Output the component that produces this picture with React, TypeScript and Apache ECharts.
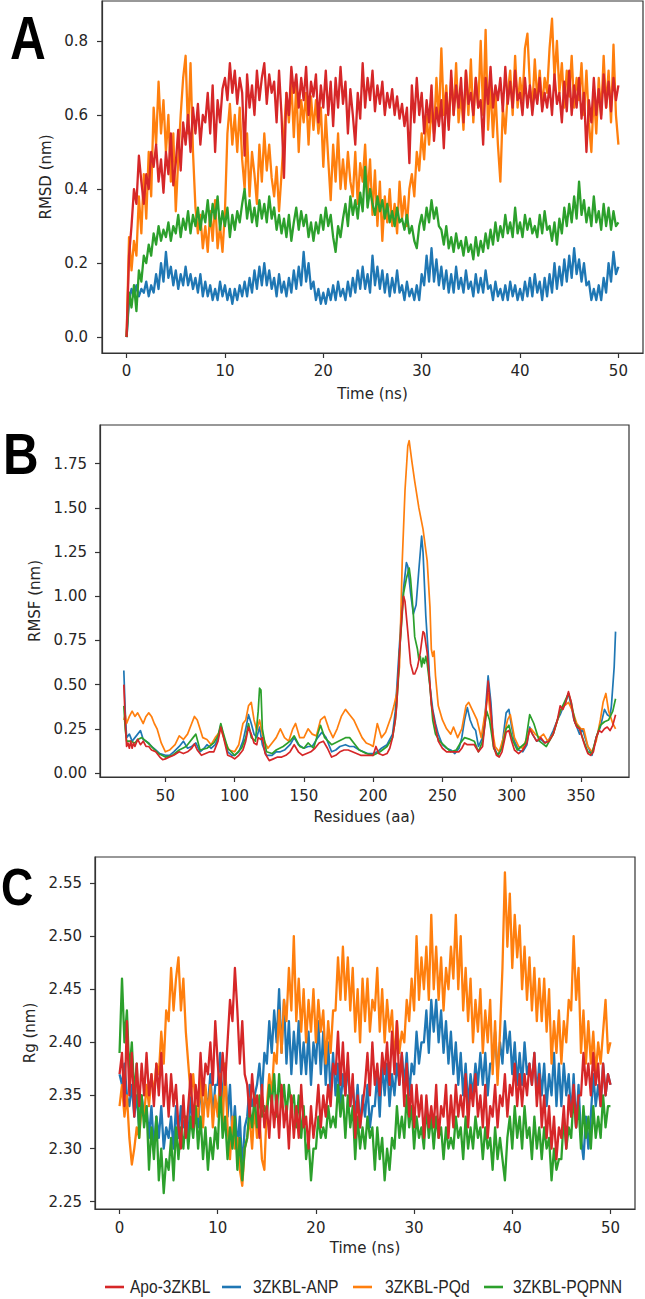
import { useEffect, useRef } from "react";
import * as echarts from "echarts";

// ---------- shared ----------
const seriesNames = ["Apo-3ZKBL", "3ZKBL-ANP", "3ZKBL-PQd", "3ZKBL-PQPNN"];
const seriesColors = ["#d62728", "#1f77b4", "#ff7f0e", "#2ca02c"];
// sampling grid of the trajectories (ns), every 0.25 ns from 0 to 50
const timeNs: number[] = Array.from({ length: 201 }, (_, i) => i * 0.25);

// ---------- A : RMSD (nm) ----------
const rmsdApo = [
  0.00, 0.22, 0.30, 0.40, 0.36, 0.49, 0.42, 0.36, 0.44, 0.40, 0.50, 0.46, 0.52, 0.42, 0.48, 0.39,
  0.50, 0.44, 0.55, 0.41, 0.47, 0.56, 0.45, 0.58, 0.52, 0.60, 0.50, 0.62, 0.55, 0.63, 0.52, 0.60,
  0.58, 0.66, 0.55, 0.68, 0.50, 0.64, 0.58, 0.67, 0.70, 0.64, 0.74, 0.66, 0.72, 0.63, 0.70, 0.66,
  0.49, 0.71, 0.62, 0.68, 0.60, 0.72, 0.64, 0.70, 0.74, 0.63, 0.71, 0.66, 0.69, 0.58, 0.72, 0.60,
  0.43, 0.66, 0.60, 0.73, 0.66, 0.71, 0.62, 0.70, 0.64, 0.73, 0.60, 0.69, 0.65, 0.71, 0.58, 0.68,
  0.62, 0.72, 0.60, 0.69, 0.57, 0.70, 0.62, 0.73, 0.63, 0.69, 0.55, 0.67, 0.60, 0.52, 0.66, 0.59,
  0.74, 0.62, 0.70, 0.64, 0.72, 0.61, 0.68, 0.63, 0.69, 0.60, 0.66, 0.62, 0.67, 0.60, 0.65, 0.59,
  0.63, 0.57, 0.62, 0.47, 0.68, 0.58, 0.70, 0.60, 0.66, 0.55, 0.64, 0.58, 0.68, 0.53, 0.62, 0.57,
  0.64, 0.51, 0.66, 0.56, 0.72, 0.60, 0.68, 0.62, 0.70, 0.58, 0.72, 0.63, 0.66, 0.60, 0.70, 0.62,
  0.64, 0.52, 0.70, 0.63, 0.73, 0.62, 0.68, 0.64, 0.70, 0.61, 0.73, 0.63, 0.69, 0.62, 0.72, 0.64,
  0.66, 0.60, 0.70, 0.62, 0.68, 0.60, 0.67, 0.63, 0.70, 0.61, 0.66, 0.62, 0.68, 0.60, 0.71, 0.63,
  0.66, 0.58, 0.69, 0.61, 0.72, 0.60, 0.68, 0.62, 0.70, 0.59, 0.66, 0.50, 0.64, 0.58, 0.70, 0.60,
  0.67, 0.59, 0.71, 0.62, 0.69, 0.61, 0.70, 0.64, 0.68,
];
const rmsdAnp = [
  0.00, 0.10, 0.13, 0.11, 0.14, 0.11, 0.13, 0.12, 0.15, 0.11, 0.14, 0.12, 0.17, 0.13, 0.20, 0.15,
  0.23, 0.16, 0.19, 0.14, 0.18, 0.13, 0.17, 0.14, 0.19, 0.14, 0.17, 0.13, 0.16, 0.12, 0.17, 0.11,
  0.15, 0.11, 0.14, 0.10, 0.13, 0.10, 0.15, 0.11, 0.14, 0.10, 0.13, 0.09, 0.13, 0.10, 0.14, 0.11,
  0.15, 0.11, 0.16, 0.12, 0.18, 0.13, 0.19, 0.14, 0.20, 0.14, 0.18, 0.13, 0.16, 0.11, 0.17, 0.12,
  0.15, 0.11, 0.16, 0.12, 0.18, 0.13, 0.19, 0.14, 0.23, 0.15, 0.20, 0.13, 0.15, 0.10, 0.13, 0.09,
  0.12, 0.09, 0.13, 0.10, 0.14, 0.10, 0.15, 0.11, 0.13, 0.10, 0.15, 0.11, 0.16, 0.12, 0.18, 0.13,
  0.19, 0.13, 0.17, 0.12, 0.22, 0.14, 0.19, 0.13, 0.18, 0.12, 0.17, 0.11, 0.16, 0.12, 0.18, 0.12,
  0.14, 0.10, 0.15, 0.11, 0.13, 0.10, 0.14, 0.10, 0.17, 0.14, 0.22, 0.15, 0.24, 0.15, 0.21, 0.14,
  0.19, 0.13, 0.18, 0.12, 0.17, 0.12, 0.19, 0.13, 0.16, 0.12, 0.18, 0.13, 0.15, 0.11, 0.17, 0.12,
  0.16, 0.12, 0.18, 0.13, 0.14, 0.10, 0.15, 0.11, 0.13, 0.10, 0.14, 0.10, 0.15, 0.11, 0.14, 0.10,
  0.13, 0.10, 0.15, 0.11, 0.16, 0.11, 0.17, 0.12, 0.15, 0.10, 0.16, 0.11, 0.17, 0.12, 0.20, 0.13,
  0.19, 0.14, 0.21, 0.15, 0.22, 0.16, 0.24, 0.17, 0.21, 0.15, 0.20, 0.14, 0.15, 0.10, 0.13, 0.10,
  0.14, 0.10, 0.16, 0.12, 0.20, 0.15, 0.23, 0.17, 0.19,
];
const rmsdPqd = [
  0.00, 0.27, 0.18, 0.26, 0.22, 0.38, 0.28, 0.44, 0.32, 0.50, 0.38, 0.62, 0.52, 0.69, 0.55, 0.64,
  0.50, 0.60, 0.42, 0.55, 0.34, 0.48, 0.60, 0.70, 0.76, 0.55, 0.74, 0.50, 0.35, 0.28, 0.33, 0.24,
  0.30, 0.23, 0.34, 0.26, 0.37, 0.24, 0.30, 0.23, 0.34, 0.55, 0.63, 0.52, 0.60, 0.50, 0.62, 0.48,
  0.40, 0.55, 0.38, 0.50, 0.44, 0.36, 0.52, 0.42, 0.55, 0.45, 0.52, 0.43, 0.38, 0.46, 0.34, 0.44,
  0.55, 0.66, 0.58, 0.69, 0.54, 0.68, 0.50, 0.64, 0.58, 0.66, 0.52, 0.65, 0.56, 0.64, 0.55, 0.62,
  0.46, 0.60, 0.48, 0.37, 0.52, 0.42, 0.55, 0.40, 0.48, 0.40, 0.50, 0.42, 0.38, 0.50, 0.36, 0.47,
  0.42, 0.52, 0.38, 0.48, 0.33, 0.45, 0.30, 0.42, 0.26, 0.38, 0.31, 0.40, 0.30, 0.36, 0.28, 0.42,
  0.32, 0.38, 0.30, 0.40, 0.44, 0.38, 0.50, 0.45, 0.55, 0.48, 0.60, 0.52, 0.62, 0.55, 0.70, 0.58,
  0.78, 0.60, 0.68, 0.57, 0.70, 0.60, 0.74, 0.58, 0.66, 0.56, 0.72, 0.60, 0.75, 0.58, 0.70, 0.62,
  0.80, 0.60, 0.83, 0.56, 0.68, 0.54, 0.66, 0.52, 0.42, 0.62, 0.55, 0.66, 0.72, 0.60, 0.76, 0.62,
  0.70, 0.64, 0.78, 0.82, 0.68, 0.62, 0.75, 0.64, 0.72, 0.62, 0.70, 0.66, 0.78, 0.86, 0.70, 0.80,
  0.66, 0.74, 0.62, 0.72, 0.65, 0.76, 0.62, 0.70, 0.64, 0.74, 0.60, 0.72, 0.58, 0.50, 0.66, 0.55,
  0.70, 0.60, 0.76, 0.62, 0.72, 0.58, 0.79, 0.60, 0.52,
];
const rmsdPqpnn = [
  0.00, 0.12, 0.08, 0.14, 0.07, 0.18, 0.15, 0.22, 0.20, 0.25, 0.22, 0.28, 0.25, 0.30, 0.26, 0.29,
  0.27, 0.31, 0.26, 0.30, 0.28, 0.33, 0.27, 0.32, 0.29, 0.34, 0.28, 0.33, 0.30, 0.35, 0.29, 0.34,
  0.31, 0.37, 0.30, 0.36, 0.32, 0.38, 0.29, 0.34, 0.30, 0.35, 0.27, 0.33, 0.29, 0.34, 0.31, 0.36,
  0.40, 0.32, 0.37, 0.31, 0.35, 0.30, 0.37, 0.32, 0.36, 0.31, 0.38, 0.32, 0.35, 0.29, 0.33, 0.28,
  0.32, 0.27, 0.33, 0.26, 0.31, 0.35, 0.29, 0.34, 0.30, 0.33, 0.27, 0.31, 0.26, 0.31, 0.28, 0.33,
  0.29, 0.35, 0.30, 0.33, 0.27, 0.23, 0.30, 0.27, 0.32, 0.36, 0.30, 0.38, 0.33, 0.37, 0.32, 0.39,
  0.34, 0.46, 0.35, 0.40, 0.36, 0.33, 0.38, 0.34, 0.37, 0.32, 0.36, 0.31, 0.34, 0.30, 0.35, 0.31,
  0.32, 0.29, 0.33, 0.28, 0.30, 0.26, 0.24, 0.30, 0.33, 0.29, 0.35, 0.31, 0.37, 0.32, 0.35, 0.30,
  0.29, 0.25, 0.30, 0.24, 0.27, 0.23, 0.28, 0.24, 0.26, 0.22, 0.27, 0.23, 0.25, 0.21, 0.27, 0.22,
  0.26, 0.23, 0.28, 0.24, 0.29, 0.25, 0.31, 0.26, 0.30, 0.27, 0.33, 0.28, 0.31, 0.27, 0.35, 0.28,
  0.31, 0.27, 0.33, 0.29, 0.32, 0.28, 0.30, 0.27, 0.33, 0.28, 0.34, 0.29, 0.30, 0.26, 0.31, 0.25,
  0.32, 0.28, 0.35, 0.30, 0.36, 0.31, 0.38, 0.32, 0.42, 0.33, 0.37, 0.31, 0.35, 0.30, 0.38, 0.31,
  0.34, 0.29, 0.36, 0.30, 0.35, 0.29, 0.34, 0.30, 0.31,
];
const rmsdTimeTicks = [0, 10, 20, 30, 40, 50];
const rmsdValueTicks = [0, 0.2, 0.4, 0.6, 0.8];

// ---------- B : RMSF (nm) per residue ----------
const rmsfApo: [number, number][] = [
  [20, 0.5], [21, 0.3], [22, 0.15], [23, 0.17], [24, 0.14], [25, 0.18], [26, 0.14], [27, 0.17], [28, 0.15],
  [30, 0.19], [32, 0.16], [34, 0.18], [36, 0.15], [38, 0.15], [40, 0.13], [43, 0.12], [46, 0.09], [48, 0.075],
  [50, 0.08], [53, 0.09], [56, 0.1], [60, 0.12], [63, 0.11], [66, 0.12], [69, 0.14], [71, 0.165], [73, 0.13],
  [76, 0.1], [79, 0.11], [82, 0.12], [85, 0.12], [88, 0.18], [90, 0.26], [92, 0.2], [95, 0.1], [98, 0.09],
  [100, 0.08], [103, 0.1], [106, 0.13], [108, 0.18], [110, 0.26], [112, 0.22], [114, 0.17], [116, 0.16],
  [117, 0.2], [119, 0.19], [120, 0.2], [122, 0.11], [125, 0.07], [128, 0.08], [131, 0.09], [134, 0.09],
  [137, 0.1], [140, 0.12], [143, 0.16], [146, 0.12], [149, 0.1], [152, 0.11], [155, 0.12], [158, 0.14],
  [161, 0.17], [164, 0.18], [167, 0.14], [170, 0.09], [173, 0.1], [176, 0.12], [179, 0.13], [182, 0.13],
  [185, 0.12], [188, 0.11], [191, 0.1], [194, 0.1], [197, 0.1], [200, 0.1], [202, 0.15], [204, 0.11],
  [207, 0.1], [210, 0.11], [212, 0.14], [214, 0.2], [216, 0.3], [217, 0.38], [219, 0.68], [221, 0.92],
  [222, 1.0], [223, 0.97], [225, 0.8], [227, 0.62], [229, 0.56], [230, 0.56], [232, 0.6], [234, 0.68],
  [236, 0.8], [237, 0.79], [239, 0.68], [241, 0.5], [242, 0.39], [244, 0.3], [245, 0.26], [247, 0.18],
  [250, 0.14], [253, 0.12], [256, 0.12], [259, 0.12], [262, 0.12], [264, 0.14], [266, 0.17], [268, 0.16],
  [270, 0.16], [273, 0.16], [276, 0.12], [279, 0.15], [281, 0.3], [283, 0.52], [285, 0.35], [287, 0.15],
  [289, 0.1], [291, 0.09], [293, 0.12], [296, 0.23], [298, 0.24], [300, 0.18], [302, 0.13], [305, 0.11],
  [308, 0.13], [311, 0.17], [313, 0.25], [315, 0.22], [318, 0.18], [321, 0.2], [324, 0.17], [327, 0.18],
  [330, 0.22], [333, 0.3], [335, 0.38], [337, 0.36], [339, 0.4], [341, 0.46], [343, 0.4], [345, 0.3],
  [347, 0.26], [349, 0.25], [351, 0.2], [353, 0.15], [355, 0.11], [357, 0.1], [359, 0.12], [361, 0.2],
  [363, 0.24], [365, 0.23], [367, 0.25], [369, 0.26], [371, 0.24], [373, 0.27], [375, 0.33],
];
const rmsfAnp: [number, number][] = [
  [20, 0.58], [21, 0.35], [22, 0.2], [24, 0.22], [26, 0.18], [28, 0.2], [30, 0.22], [32, 0.24], [34, 0.19],
  [36, 0.18], [38, 0.17], [40, 0.15], [43, 0.13], [46, 0.11], [50, 0.1], [53, 0.1], [56, 0.12], [60, 0.15],
  [63, 0.18], [66, 0.14], [69, 0.15], [72, 0.17], [75, 0.12], [78, 0.14], [80, 0.16], [83, 0.14], [86, 0.16],
  [88, 0.2], [90, 0.27], [92, 0.21], [95, 0.12], [98, 0.1], [100, 0.1], [103, 0.12], [106, 0.18], [108, 0.25],
  [110, 0.33], [112, 0.28], [114, 0.22], [116, 0.2], [118, 0.26], [120, 0.16], [123, 0.1], [127, 0.1],
  [130, 0.12], [133, 0.12], [136, 0.13], [140, 0.16], [143, 0.2], [146, 0.16], [150, 0.14], [153, 0.15],
  [156, 0.15], [160, 0.2], [163, 0.23], [166, 0.2], [170, 0.12], [173, 0.13], [176, 0.15], [180, 0.16],
  [183, 0.15], [186, 0.15], [190, 0.13], [193, 0.12], [196, 0.11], [200, 0.11], [203, 0.12], [206, 0.14],
  [210, 0.16], [212, 0.19], [214, 0.22], [216, 0.35], [218, 0.6], [220, 0.85], [222, 1.05], [224, 1.19],
  [225, 1.17], [227, 1.02], [229, 0.9], [231, 0.95], [233, 1.15], [235, 1.34], [236, 1.25], [238, 0.89],
  [240, 0.65], [241, 0.49], [243, 0.36], [245, 0.28], [247, 0.22], [250, 0.16], [253, 0.14], [256, 0.13],
  [259, 0.11], [262, 0.14], [264, 0.2], [266, 0.3], [268, 0.37], [270, 0.3], [272, 0.26], [274, 0.24],
  [276, 0.15], [279, 0.2], [281, 0.35], [283, 0.55], [285, 0.4], [287, 0.15], [290, 0.1], [293, 0.15],
  [296, 0.34], [298, 0.36], [300, 0.26], [302, 0.18], [305, 0.13], [308, 0.12], [311, 0.16], [313, 0.26],
  [315, 0.22], [318, 0.18], [321, 0.19], [324, 0.17], [327, 0.19], [330, 0.24], [333, 0.3], [335, 0.33],
  [337, 0.37], [339, 0.4], [341, 0.45], [343, 0.38], [345, 0.3], [347, 0.26], [349, 0.22], [351, 0.25],
  [353, 0.2], [355, 0.15], [358, 0.1], [361, 0.2], [364, 0.26], [367, 0.36], [369, 0.33], [371, 0.32],
  [372, 0.38], [374, 0.6], [375, 0.8],
];
const rmsfPqd: [number, number][] = [
  [20, 0.3], [21, 0.33], [22, 0.28], [24, 0.32], [26, 0.35], [28, 0.32], [30, 0.34], [32, 0.31], [34, 0.28],
  [36, 0.32], [38, 0.34], [40, 0.32], [42, 0.28], [44, 0.25], [47, 0.17], [50, 0.12], [53, 0.13], [57, 0.16],
  [60, 0.21], [63, 0.19], [66, 0.22], [69, 0.28], [71, 0.32], [73, 0.3], [75, 0.25], [77, 0.2], [80, 0.19],
  [83, 0.16], [86, 0.2], [88, 0.22], [90, 0.25], [93, 0.18], [96, 0.13], [100, 0.12], [103, 0.16], [106, 0.28],
  [108, 0.3], [110, 0.38], [112, 0.4], [114, 0.3], [116, 0.24], [118, 0.3], [120, 0.22], [122, 0.17],
  [124, 0.14], [127, 0.17], [130, 0.2], [133, 0.25], [136, 0.2], [139, 0.18], [142, 0.25], [144, 0.28],
  [147, 0.2], [150, 0.2], [153, 0.25], [156, 0.22], [159, 0.21], [162, 0.3], [165, 0.32], [168, 0.25],
  [171, 0.2], [174, 0.25], [177, 0.32], [180, 0.36], [183, 0.33], [186, 0.3], [189, 0.25], [192, 0.2],
  [195, 0.17], [198, 0.16], [200, 0.15], [203, 0.28], [206, 0.2], [209, 0.23], [213, 0.32], [215, 0.38],
  [217, 0.45], [219, 0.6], [220, 0.9], [221, 1.2], [223, 1.6], [225, 1.85], [226, 1.88], [228, 1.76],
  [230, 1.65], [233, 1.5], [236, 1.38], [239, 1.2], [241, 0.94], [242, 0.7], [243, 0.66], [244, 0.69],
  [245, 0.55], [247, 0.38], [250, 0.3], [253, 0.25], [256, 0.22], [258, 0.26], [261, 0.2], [264, 0.25],
  [267, 0.38], [269, 0.4], [272, 0.35], [275, 0.3], [278, 0.2], [281, 0.35], [283, 0.45], [285, 0.3],
  [288, 0.15], [291, 0.12], [294, 0.2], [297, 0.3], [299, 0.33], [302, 0.2], [305, 0.15], [308, 0.14],
  [311, 0.2], [314, 0.25], [317, 0.22], [320, 0.2], [323, 0.22], [326, 0.18], [330, 0.22], [335, 0.35],
  [338, 0.38], [341, 0.4], [344, 0.35], [347, 0.28], [350, 0.25], [352, 0.25], [355, 0.15], [358, 0.12],
  [361, 0.18], [364, 0.3], [366, 0.4], [368, 0.45], [370, 0.35], [373, 0.28], [375, 0.25],
];
const rmsfPqpnn: [number, number][] = [
  [20, 0.38], [21, 0.25], [22, 0.18], [25, 0.18], [28, 0.17], [30, 0.19], [33, 0.2], [36, 0.18], [40, 0.15],
  [45, 0.11], [50, 0.09], [55, 0.1], [60, 0.13], [65, 0.15], [70, 0.2], [72, 0.22], [75, 0.13], [80, 0.14],
  [85, 0.17], [88, 0.21], [90, 0.28], [92, 0.22], [95, 0.14], [100, 0.1], [105, 0.14], [108, 0.2], [110, 0.28],
  [112, 0.2], [115, 0.18], [117, 0.35], [118, 0.48], [119, 0.47], [120, 0.25], [123, 0.12], [127, 0.11],
  [130, 0.13], [135, 0.15], [140, 0.18], [143, 0.21], [147, 0.15], [150, 0.14], [153, 0.17], [157, 0.14],
  [160, 0.22], [162, 0.27], [165, 0.2], [170, 0.16], [175, 0.18], [180, 0.2], [183, 0.2], [187, 0.16],
  [190, 0.13], [195, 0.11], [200, 0.1], [205, 0.12], [210, 0.15], [214, 0.2], [216, 0.3], [218, 0.5],
  [219, 0.68], [221, 0.9], [222, 1.02], [224, 1.1], [226, 1.16], [227, 1.1], [229, 0.9], [230, 0.77],
  [232, 0.7], [233, 0.64], [234, 0.66], [235, 0.6], [236, 0.65], [237, 0.62], [238, 0.66], [239, 0.62],
  [241, 0.49], [243, 0.3], [245, 0.22], [248, 0.18], [252, 0.15], [256, 0.12], [260, 0.13], [263, 0.17],
  [266, 0.2], [270, 0.19], [273, 0.18], [276, 0.12], [279, 0.18], [282, 0.35], [284, 0.3], [287, 0.14],
  [290, 0.1], [293, 0.14], [296, 0.25], [298, 0.27], [301, 0.18], [304, 0.13], [307, 0.15], [310, 0.17],
  [313, 0.33], [316, 0.28], [320, 0.18], [325, 0.15], [330, 0.22], [335, 0.35], [338, 0.4], [341, 0.45],
  [343, 0.4], [346, 0.28], [349, 0.25], [352, 0.18], [355, 0.12], [358, 0.11], [361, 0.2], [364, 0.27],
  [367, 0.29], [370, 0.3], [373, 0.35], [375, 0.42],
];
const residueTicks = [50, 100, 150, 200, 250, 300, 350];
const rmsfValueTicks = [0, 0.25, 0.5, 0.75, 1.0, 1.25, 1.5, 1.75];

// ---------- C : Rg (nm) ----------
const rgApo = [
  2.37, 2.39, 2.34, 2.42, 2.35, 2.39, 2.33, 2.38, 2.34, 2.38, 2.35, 2.39, 2.35, 2.37, 2.34, 2.38,
  2.35, 2.39, 2.34, 2.37, 2.33, 2.37, 2.34, 2.36, 2.32, 2.30, 2.35, 2.31, 2.34, 2.37, 2.32, 2.36,
  2.34, 2.39, 2.35, 2.38, 2.37, 2.40, 2.36, 2.42, 2.38, 2.35, 2.39, 2.36, 2.40, 2.44, 2.42, 2.47,
  2.43, 2.38, 2.42, 2.37, 2.36, 2.33, 2.37, 2.34, 2.35, 2.31, 2.36, 2.32, 2.34, 2.31, 2.35, 2.32,
  2.35, 2.31, 2.36, 2.32, 2.34, 2.30, 2.35, 2.31, 2.34, 2.31, 2.36, 2.32, 2.33, 2.30, 2.34, 2.31,
  2.33, 2.36, 2.32, 2.35, 2.33, 2.36, 2.34, 2.38, 2.37, 2.41, 2.36, 2.40, 2.35, 2.39, 2.34, 2.37,
  2.31, 2.35, 2.32, 2.34, 2.36, 2.39, 2.35, 2.40, 2.36, 2.38, 2.35, 2.39, 2.37, 2.40, 2.36, 2.41,
  2.37, 2.42, 2.36, 2.39, 2.34, 2.38, 2.33, 2.36, 2.32, 2.36, 2.33, 2.35, 2.31, 2.35, 2.32, 2.34,
  2.32, 2.36, 2.31, 2.34, 2.33, 2.36, 2.31, 2.35, 2.32, 2.36, 2.33, 2.35, 2.33, 2.37, 2.32, 2.36,
  2.34, 2.37, 2.33, 2.35, 2.32, 2.36, 2.31, 2.34, 2.33, 2.36, 2.32, 2.35, 2.34, 2.37, 2.33, 2.36,
  2.35, 2.38, 2.34, 2.37, 2.34, 2.37, 2.35, 2.38, 2.36, 2.39, 2.34, 2.37, 2.32, 2.35, 2.31, 2.34,
  2.30, 2.33, 2.29, 2.32, 2.31, 2.34, 2.30, 2.35, 2.33, 2.36, 2.32, 2.35, 2.35, 2.39, 2.36, 2.38,
  2.35, 2.39, 2.36, 2.38, 2.34, 2.38, 2.35, 2.37, 2.36,
];
const rgAnp = [
  2.37, 2.36, 2.38, 2.35, 2.34, 2.36, 2.33, 2.35, 2.32, 2.35, 2.33, 2.34, 2.31, 2.34, 2.30, 2.33,
  2.31, 2.34, 2.30, 2.32, 2.31, 2.33, 2.30, 2.34, 2.31, 2.34, 2.32, 2.33, 2.31, 2.35, 2.32, 2.34,
  2.32, 2.36, 2.33, 2.35, 2.34, 2.37, 2.33, 2.36, 2.36, 2.39, 2.34, 2.38, 2.33, 2.36, 2.31, 2.34,
  2.30, 2.33, 2.28, 2.32, 2.33, 2.36, 2.34, 2.35, 2.36, 2.38, 2.35, 2.39, 2.38, 2.42, 2.39, 2.43,
  2.40, 2.45, 2.39, 2.44, 2.38, 2.42, 2.37, 2.41, 2.38, 2.42, 2.37, 2.40, 2.37, 2.41, 2.36, 2.40,
  2.38, 2.42, 2.37, 2.41, 2.36, 2.40, 2.35, 2.39, 2.35, 2.38, 2.34, 2.37, 2.35, 2.38, 2.34, 2.36,
  2.33, 2.36, 2.32, 2.35, 2.33, 2.36, 2.32, 2.34, 2.34, 2.37, 2.33, 2.38, 2.35, 2.38, 2.34, 2.37,
  2.35, 2.38, 2.36, 2.39, 2.36, 2.39, 2.35, 2.38, 2.37, 2.41, 2.38, 2.40, 2.40, 2.43, 2.39, 2.44,
  2.41, 2.44, 2.40, 2.43, 2.39, 2.42, 2.38, 2.41, 2.37, 2.40, 2.36, 2.39, 2.35, 2.38, 2.34, 2.37,
  2.35, 2.38, 2.36, 2.39, 2.36, 2.39, 2.35, 2.38, 2.38, 2.41, 2.37, 2.40, 2.38, 2.42, 2.39, 2.41,
  2.37, 2.40, 2.36, 2.39, 2.36, 2.40, 2.37, 2.38, 2.36, 2.39, 2.35, 2.38, 2.35, 2.38, 2.34, 2.37,
  2.35, 2.39, 2.34, 2.38, 2.34, 2.38, 2.35, 2.37, 2.33, 2.37, 2.32, 2.36, 2.31, 2.29, 2.33, 2.30,
  2.33, 2.37, 2.34, 2.36, 2.34, 2.38, 2.35, 2.37, 2.36,
];
const rgPqd = [
  2.34, 2.36, 2.33, 2.35, 2.31, 2.285, 2.30, 2.32, 2.31, 2.34, 2.33, 2.36, 2.34, 2.37, 2.35, 2.38,
  2.37, 2.41, 2.38, 2.43, 2.42, 2.47, 2.43, 2.46, 2.48, 2.43, 2.46, 2.41, 2.38, 2.35, 2.37, 2.34,
  2.33, 2.37, 2.32, 2.36, 2.33, 2.36, 2.32, 2.35, 2.33, 2.37, 2.32, 2.38, 2.32, 2.29, 2.33, 2.30,
  2.31, 2.28, 2.265, 2.30, 2.31, 2.33, 2.30, 2.34, 2.31, 2.33, 2.29, 2.28, 2.34, 2.37, 2.35, 2.39,
  2.38, 2.43, 2.39, 2.44, 2.42, 2.47, 2.43, 2.50, 2.42, 2.46, 2.41, 2.45, 2.40, 2.44, 2.41, 2.45,
  2.40, 2.44, 2.41, 2.43, 2.38, 2.42, 2.39, 2.43, 2.43, 2.48, 2.44, 2.49, 2.44, 2.48, 2.43, 2.47,
  2.41, 2.45, 2.40, 2.46, 2.42, 2.46, 2.41, 2.44, 2.43, 2.47, 2.41, 2.45, 2.40, 2.44, 2.41, 2.43,
  2.38, 2.42, 2.39, 2.41, 2.40, 2.44, 2.42, 2.46, 2.43, 2.50, 2.44, 2.48, 2.45, 2.49, 2.44, 2.52,
  2.45, 2.49, 2.44, 2.48, 2.43, 2.47, 2.45, 2.49, 2.46, 2.52, 2.45, 2.50, 2.43, 2.47, 2.42, 2.46,
  2.40, 2.44, 2.41, 2.45, 2.39, 2.43, 2.40, 2.44, 2.37, 2.42, 2.36, 2.41, 2.47, 2.56, 2.49, 2.54,
  2.47, 2.52, 2.48, 2.51, 2.45, 2.49, 2.44, 2.48, 2.43, 2.47, 2.42, 2.46, 2.42, 2.46, 2.41, 2.45,
  2.38, 2.42, 2.39, 2.43, 2.38, 2.42, 2.40, 2.44, 2.43, 2.50, 2.44, 2.47, 2.39, 2.43, 2.38, 2.42,
  2.38, 2.41, 2.37, 2.40, 2.38, 2.41, 2.44, 2.39, 2.40,
];
const rgPqpnn = [
  2.39, 2.46, 2.40, 2.43, 2.37, 2.40, 2.35, 2.38, 2.31, 2.35, 2.32, 2.34, 2.28, 2.32, 2.29, 2.33,
  2.27, 2.30, 2.258, 2.29, 2.28, 2.31, 2.27, 2.32, 2.29, 2.32, 2.30, 2.33, 2.30, 2.33, 2.31, 2.34,
  2.30, 2.33, 2.29, 2.32, 2.28, 2.31, 2.29, 2.32, 2.30, 2.36, 2.31, 2.33, 2.29, 2.32, 2.30, 2.33,
  2.28, 2.31, 2.27, 2.30, 2.31, 2.34, 2.32, 2.35, 2.32, 2.35, 2.33, 2.34, 2.33, 2.36, 2.34, 2.37,
  2.33, 2.37, 2.34, 2.36, 2.33, 2.36, 2.34, 2.35, 2.32, 2.35, 2.31, 2.34, 2.29, 2.31, 2.27, 2.30,
  2.30, 2.33, 2.31, 2.32, 2.31, 2.34, 2.32, 2.33, 2.32, 2.36, 2.33, 2.35, 2.31, 2.35, 2.32, 2.34,
  2.29, 2.33, 2.30, 2.32, 2.30, 2.33, 2.31, 2.32, 2.28, 2.32, 2.29, 2.31, 2.27, 2.30, 2.28, 2.31,
  2.30, 2.34, 2.31, 2.33, 2.31, 2.35, 2.32, 2.34, 2.30, 2.33, 2.31, 2.32, 2.30, 2.34, 2.31, 2.33,
  2.30, 2.33, 2.31, 2.32, 2.29, 2.32, 2.30, 2.31, 2.30, 2.33, 2.31, 2.32, 2.29, 2.33, 2.30, 2.32,
  2.30, 2.33, 2.31, 2.32, 2.29, 2.32, 2.30, 2.31, 2.28, 2.32, 2.29, 2.31, 2.29, 2.27, 2.31, 2.33,
  2.30, 2.34, 2.31, 2.33, 2.30, 2.34, 2.31, 2.32, 2.29, 2.33, 2.30, 2.32, 2.29, 2.32, 2.30, 2.31,
  2.27, 2.30, 2.28, 2.29, 2.29, 2.33, 2.30, 2.32, 2.31, 2.35, 2.32, 2.34, 2.30, 2.34, 2.31, 2.33,
  2.30, 2.34, 2.31, 2.33, 2.31, 2.35, 2.32, 2.34, 2.34,
];
const rgTimeTicks = [0, 10, 20, 30, 40, 50];
const rgValueTicks = [2.25, 2.3, 2.35, 2.4, 2.45, 2.5, 2.55];

// ---------- helpers ----------
const TXT = "#262626";
const FRAME = "#333333";
const FONT = "DejaVu Sans";

function makeAxis(
  gridIndex: number,
  min: number,
  max: number,
  ticks: number[],
  digits: number,
  name: string,
  nameGap: number,
  labelMargin: number
) {
  return {
    type: "value",
    gridIndex,
    min,
    max,
    name,
    nameLocation: "middle",
    nameGap,
    nameTextStyle: { fontFamily: FONT, fontSize: 15, color: TXT },
    axisLine: { show: true, onZero: false, lineStyle: { color: FRAME, width: 1.2 } },
    axisTick: { show: true, length: 5, customValues: ticks, lineStyle: { color: FRAME, width: 1.2 } },
    axisLabel: {
      customValues: ticks,
      formatter: (v: number) => v.toFixed(digits),
      margin: labelMargin,
      fontFamily: FONT,
      fontSize: 15,
      color: TXT,
    },
    splitLine: { show: false },
  };
}

function lineSeries(name: string, color: string, idx: number, data: [number, number][], width: number) {
  return {
    type: "line",
    name,
    xAxisIndex: idx,
    yAxisIndex: idx,
    data,
    showSymbol: false,
    symbol: "none",
    clip: true,
    lineStyle: { color, width, join: "round" },
    itemStyle: { color },
    emphasis: { disabled: true },
  };
}

const pair = (ys: number[]): [number, number][] => timeNs.map((t, i) => [t, ys[i]]);

export default function App() {
  const ref = useRef<HTMLDivElement>(null);

  useEffect(() => {
    if (!ref.current) return;
    const chart = echarts.init(ref.current, undefined, { renderer: "svg" });

    const grids = [
      { left: 102, top: 1, width: 541, height: 352 },
      { left: 100, top: 425, width: 529, height: 352 },
      { left: 95, top: 857, width: 540, height: 352 },
    ].map((g) => ({ ...g, show: true, borderColor: FRAME, borderWidth: 1.2, backgroundColor: "transparent" }));

    // order of drawing: ANP, PQd, PQPNN, Apo (Apo on top)
    const aSets = [rmsdAnp, rmsdPqd, rmsdPqpnn, rmsdApo];
    const bSets = [rmsfAnp, rmsfPqd, rmsfPqpnn, rmsfApo];
    const cSets = [rgAnp, rgPqd, rgPqpnn, rgApo];
    const order = [1, 2, 3, 0];

    const series: any[] = [];
    order.forEach((k, j) => series.push(lineSeries(seriesNames[k], seriesColors[k], 0, pair(aSets[j]), 2.3)));
    order.forEach((k, j) => series.push(lineSeries(seriesNames[k], seriesColors[k], 1, bSets[j], 1.7)));
    order.forEach((k, j) => series.push(lineSeries(seriesNames[k], seriesColors[k], 2, pair(cSets[j]), 2.3)));

    const legendItems = [
      { x1: 105, tx: 130, sx: 0.84 },
      { x1: 222, tx: 253, sx: 0.85 },
      { x1: 353, tx: 385, sx: 0.85 },
      { x1: 484, tx: 513, sx: 0.85 },
    ];
    const legendY = 1287;
    const legendGraphics: any[] = [];
    legendItems.forEach((it, k) => {
      legendGraphics.push({
        type: "line",
        shape: { x1: it.x1, y1: legendY, x2: it.x1 + 19, y2: legendY },
        style: { stroke: seriesColors[k], lineWidth: 2.6 },
      });
      legendGraphics.push({
        type: "text",
        x: it.tx,
        y: legendY,
        scaleX: it.sx,
        style: {
          text: seriesNames[k],
          fontFamily: "Liberation Sans",
          fontSize: 18.5,
          fill: TXT,
          align: "left",
          verticalAlign: "middle",
        },
      });
    });

    const panelLabel = (txt: string, x: number, y: number, size: number, sx: number) => ({
      type: "text",
      x,
      y,
      scaleX: sx,
      style: {
        text: txt,
        fontFamily: "Liberation Sans",
        fontWeight: "bold",
        fontSize: size,
        fill: "#000",
        align: "left",
        verticalAlign: "middle",
      },
    });

    chart.setOption({
      animation: false,
      backgroundColor: "#ffffff",
      grid: grids,
      xAxis: [
        makeAxis(0, -2.5, 52.5, rmsdTimeTicks, 0, "Time (ns)", 33, 10),
        makeAxis(1, 2.8, 384.7, residueTicks, 0, "Residues (aa)", 32, 11),
        makeAxis(2, -2.5, 52.5, rgTimeTicks, 0, "Time (ns)", 31, 11),
      ],
      yAxis: [
        makeAxis(0, -0.043, 0.908, rmsdValueTicks, 1, "RMSD (nm)", 44, 14),
        makeAxis(1, -0.0227, 1.969, rmsfValueTicks, 2, "RMSF (nm)", 55, 13),
        makeAxis(2, 2.2431, 2.5745, rgValueTicks, 2, "Rg (nm)", 56, 13),
      ],
      series,
      graphic: [
        panelLabel("A", 10, 37, 62, 0.8),
        panelLabel("B", 3, 454, 58, 0.85),
        panelLabel("C", 1, 887, 52, 0.86),
        ...legendGraphics,
      ],
    });

    return () => chart.dispose();
  }, []);

  return (
    <div
      ref={ref}
      style={{ position: "fixed", left: 0, top: 0, width: 645, height: 1299, background: "#fff" }}
    />
  );
}
